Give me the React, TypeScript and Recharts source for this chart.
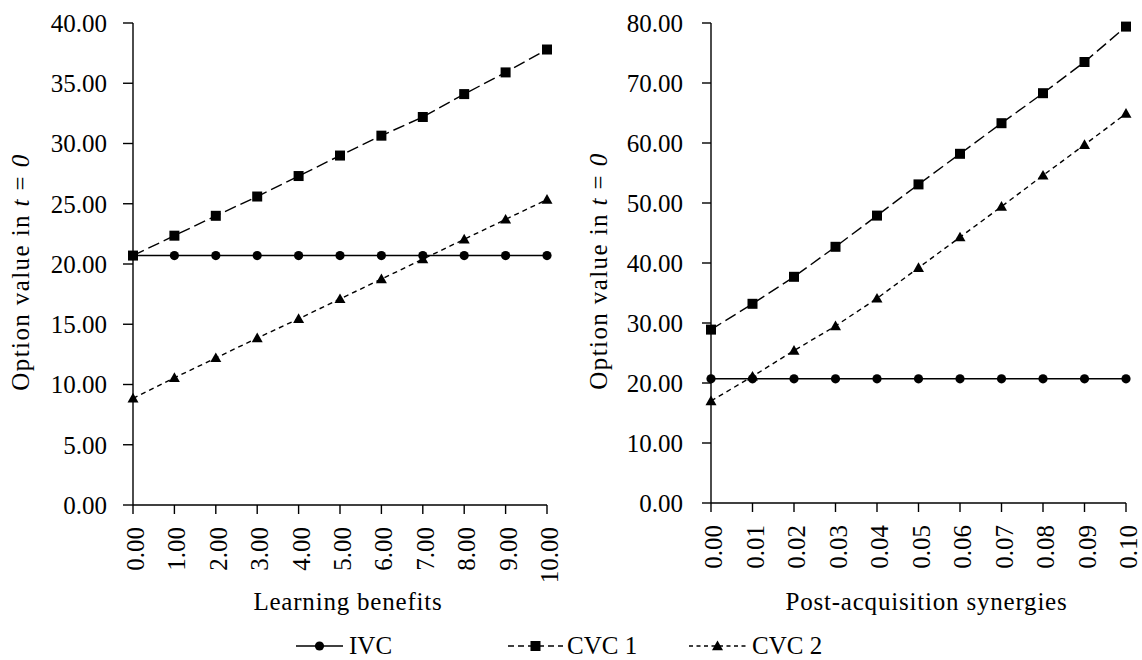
import React from "react";
import { LineChart, Line, XAxis, YAxis, Label } from "recharts";

// x categories
const learningBenefits = [0, 1, 2, 3, 4, 5, 6, 7, 8, 9, 10];
const synergies = [0, 0.01, 0.02, 0.03, 0.04, 0.05, 0.06, 0.07, 0.08, 0.09, 0.1];

// left panel values
const ivcLeft = [20.7, 20.7, 20.7, 20.7, 20.7, 20.7, 20.7, 20.7, 20.7, 20.7, 20.7];
const cvc1Left = [20.7, 22.35, 24.0, 25.6, 27.3, 29.0, 30.65, 32.2, 34.1, 35.9, 37.8];
const cvc2Left = [8.85, 10.55, 12.2, 13.85, 15.45, 17.1, 18.75, 20.4, 22.05, 23.7, 25.35];

// right panel values
const ivcRight = [20.7, 20.7, 20.7, 20.7, 20.7, 20.7, 20.7, 20.7, 20.7, 20.7, 20.7];
const cvc1Right = [28.9, 33.2, 37.7, 42.7, 47.9, 53.1, 58.2, 63.3, 68.3, 73.5, 79.4];
const cvc2Right = [17.0, 21.1, 25.4, 29.5, 34.1, 39.2, 44.3, 49.4, 54.6, 59.7, 64.9];

const leftYTicks = [0, 5, 10, 15, 20, 25, 30, 35, 40];
const rightYTicks = [0, 10, 20, 30, 40, 50, 60, 70, 80];

const seriesNames = ["IVC", "CVC 1", "CVC 2"];

const FONT = "'Liberation Serif', 'Times New Roman', serif";
const INK = "#000";
const LINE_W = 1.4;

const leftData = learningBenefits.map((x, i) => ({
  x,
  ivc: ivcLeft[i],
  cvc1: cvc1Left[i],
  cvc2: cvc2Left[i],
}));

const rightData = synergies.map((x, i) => ({
  x,
  ivc: ivcRight[i],
  cvc1: cvc1Right[i],
  cvc2: cvc2Right[i],
}));

const CircleDot = (props: any) => {
  const { cx, cy, key } = props;
  if (cx == null || cy == null) return <g key={key} />;
  return <circle key={key} cx={cx} cy={cy} r={4.6} fill={INK} />;
};

const SquareDot = (props: any) => {
  const { cx, cy, key } = props;
  if (cx == null || cy == null) return <g key={key} />;
  return <rect key={key} x={cx - 5} y={cy - 5} width={10} height={10} fill={INK} />;
};

const TriangleDot = (props: any) => {
  const { cx, cy, key } = props;
  if (cx == null || cy == null) return <g key={key} />;
  const s = 5.5;
  return (
    <path
      key={key}
      d={`M${cx},${cy - s} L${cx + s},${cy + s * 0.75} L${cx - s},${cy + s * 0.75} Z`}
      fill={INK}
    />
  );
};

const XTick = (props: any) => {
  const { x, y, payload } = props;
  return (
    <text
      transform={`translate(${x + 11},${y + 13}) rotate(-90)`}
      textAnchor="end"
      fontSize={25}
      fontFamily={FONT}
      fill={INK}
    >
      {Number(payload.value).toFixed(2)}
    </text>
  );
};

const YTitle = (props: any) => {
  const vb = props.viewBox || {};
  const axisX = vb.x + vb.width;
  const bx = axisX - 104;
  const cy = vb.y + vb.height / 2 + 8;
  return (
    <text
      transform={`translate(${bx},${cy}) rotate(-90)`}
      textAnchor="middle"
      fontSize={25}
      fontFamily={FONT}
      fill={INK}
      letterSpacing={1.4}
    >
      Option value in <tspan fontStyle="italic">t</tspan> = <tspan fontStyle="italic">0</tspan>
    </text>
  );
};

const XTitle = (text: string) => (props: any) => {
  const vb = props.viewBox || {};
  return (
    <text
      x={vb.x + vb.width / 2 + 8}
      y={vb.y + vb.height - 10}
      textAnchor="middle"
      fontSize={25}
      fontFamily={FONT}
      fill={INK}
      letterSpacing={0.8}
    >
      {text}
    </text>
  );
};

const yTickStyle = { fill: INK, fontSize: 25, fontFamily: FONT };
const axisLine = { stroke: INK, strokeWidth: LINE_W };

function Panel(props: {
  data: any[];
  width: number;
  xTicks: number[];
  xDomain: [number, number];
  yTicks: number[];
  yDomain: [number, number];
  yAxisWidth: number;
  xAxisHeight: number;
  right: number;
  yTickSize: number;
  yTickMargin: number;
  xTitle: string;
}) {
  const p = props;
  return (
    <LineChart
      width={p.width}
      height={620}
      data={p.data}
      margin={{ top: 23, right: p.right, bottom: 0, left: 0 }}
    >
      <XAxis
        dataKey="x"
        type="number"
        domain={p.xDomain}
        ticks={p.xTicks}
        interval={0}
        height={p.xAxisHeight}
        tickSize={9}
        tickMargin={0}
        axisLine={axisLine}
        tickLine={axisLine}
        tick={<XTick />}
      >
        <Label content={XTitle(p.xTitle)} />
      </XAxis>
      <YAxis
        type="number"
        domain={p.yDomain}
        ticks={p.yTicks}
        interval={0}
        width={p.yAxisWidth}
        tickSize={p.yTickSize}
        tickMargin={p.yTickMargin}
        axisLine={axisLine}
        tickLine={axisLine}
        tick={yTickStyle}
        tickFormatter={(v: number) => v.toFixed(2)}
      >
        <Label content={YTitle} />
      </YAxis>
      <Line
        dataKey="ivc"
        name={seriesNames[0]}
        type="linear"
        stroke={INK}
        strokeWidth={LINE_W}
        dot={CircleDot}
        activeDot={false}
        isAnimationActive={false}
      />
      <Line
        dataKey="cvc1"
        name={seriesNames[1]}
        type="linear"
        stroke={INK}
        strokeWidth={LINE_W}
        strokeDasharray="12 5"
        dot={SquareDot}
        activeDot={false}
        isAnimationActive={false}
      />
      <Line
        dataKey="cvc2"
        name={seriesNames[2]}
        type="linear"
        stroke={INK}
        strokeWidth={LINE_W}
        strokeDasharray="5 4"
        dot={TriangleDot}
        activeDot={false}
        isAnimationActive={false}
      />
    </LineChart>
  );
}

// legend entries: line start, line end, label x
const legendItems = [
  { name: seriesNames[0], x1: 296, x2: 343, tx: 349, dash: undefined, Dot: CircleDot },
  { name: seriesNames[1], x1: 508, x2: 563, tx: 567, dash: "6 4", Dot: SquareDot },
  { name: seriesNames[2], x1: 689, x2: 746, tx: 752, dash: "4 3.5", Dot: TriangleDot },
];

function LegendRow() {
  const ly = 26;
  return (
    <svg width={1142} height={40} style={{ position: "absolute", left: 0, top: 620 }}>
      {legendItems.map((it) => (
        <g key={it.name}>
          <line
            x1={it.x1}
            x2={it.x2}
            y1={ly}
            y2={ly}
            stroke={INK}
            strokeWidth={LINE_W}
            strokeDasharray={it.dash}
          />
          {it.Dot({ cx: (it.x1 + it.x2) / 2, cy: ly, key: it.name + "-dot" })}
          <text x={it.tx} y={ly + 8} fontSize={25} fontFamily={FONT} fill={INK}>
            {it.name}
          </text>
        </g>
      ))}
    </svg>
  );
}

export default function App() {
  return (
    <div
      style={{
        position: "absolute",
        left: 0,
        top: 0,
        width: 1142,
        height: 660,
        background: "#fff",
        overflow: "hidden",
      }}
    >
      <div style={{ position: "absolute", left: 0, top: 0 }}>
        <Panel
          data={leftData}
          width={570}
          xTicks={learningBenefits}
          xDomain={[0, 10]}
          yTicks={leftYTicks}
          yDomain={[0, 40]}
          yAxisWidth={133}
          xAxisHeight={115}
          right={23}
          yTickSize={10}
          yTickMargin={16}
          xTitle="Learning benefits"
        />
      </div>
      <div style={{ position: "absolute", left: 570, top: 0 }}>
        <Panel
          data={rightData}
          width={572}
          xTicks={synergies}
          xDomain={[0, 0.1]}
          yTicks={rightYTicks}
          yDomain={[0, 80]}
          yAxisWidth={141}
          xAxisHeight={117}
          right={16}
          yTickSize={9}
          yTickMargin={19}
          xTitle="Post-acquisition synergies"
        />
      </div>
      <LegendRow />
    </div>
  );
}
